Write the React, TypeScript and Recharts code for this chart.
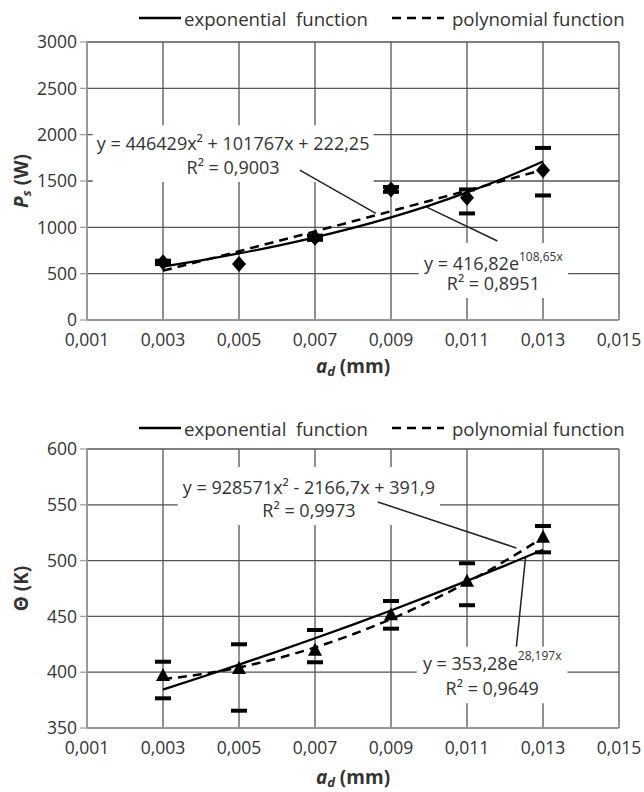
import React from 'react';
import { ComposedChart, Line, Scatter, XAxis, YAxis, CartesianGrid, ReferenceArea, ReferenceLine, Label } from 'recharts';

// measured x positions (mm)
const AD_X = [0.003, 0.005, 0.007, 0.009, 0.011, 0.013];
const TREND_X = [0.003, 0.004, 0.005, 0.006, 0.007, 0.008, 0.009, 0.01, 0.011, 0.012, 0.013];
const X_TICKS = [0.001, 0.003, 0.005, 0.007, 0.009, 0.011, 0.013, 0.015];

// P_s (W)
const PS_MEAN = [622, 604, 887, 1409, 1318, 1617];
const PS_UPPER = [640, null, 910, 1435, 1409, 1857];
const PS_LOWER = [604, null, 865, 1383, 1150, 1344];
const PS_EXP = [577, 644, 718, 800, 892, 994, 1108, 1235, 1377, 1535, 1711];
const PS_POLY = [532, 636, 742, 849, 956, 1065, 1174, 1285, 1396, 1508, 1621];
const PS_TICKS = [0, 500, 1000, 1500, 2000, 2500, 3000];

// Theta (K)
const TH_MEAN = [396.6, 402.9, 419.3, 451, 481, 520.5];
const TH_UPPER = [409.4, 425, 437.8, 463.8, 497.6, 531];
const TH_LOWER = [376.6, 365.5, 408.9, 439, 460, 507.4];
const TH_EXP = [384.5, 395.5, 406.8, 418.4, 430.4, 442.7, 455.3, 468.4, 481.8, 495.5, 509.7];
const TH_POLY = [393.8, 398.1, 404.3, 412.3, 422.2, 434.0, 447.6, 463.1, 480.4, 499.6, 520.7];
const TH_TICKS = [350, 400, 450, 500, 550, 600];

const FONT = '"Open Sans", sans-serif';
const GRID = '#555';
const TXT = '#333';

const toPts = (xs: number[], ys: (number | null)[]) =>
  xs.map((x, i) => ({ x, y: ys[i] })).filter(p => p.y !== null);

const fmt = (v: number) => String(v).replace('.', ',');

const PS_ANN = [
  { x1: 0.00115, x2: 0.00854, y1: 1488, y2: 2102, main: 'y = 446429x² + 101767x + 222,25', sup: '', r2: 'R² = 0,9003', dy1: 18, dy2: 42 },
  { x1: 0.00973, x2: 0.01366, y1: 237, y2: 830, main: 'y = 416,82e', sup: '108,65x', r2: 'R² = 0,8951', dy1: 20, dy2: 40 },
];
const PS_LEADERS = [
  [{ x: 0.0066, y: 1617 }, { x: 0.0086, y: 1150 }],
  [{ x: 0.00994, y: 1218 }, { x: 0.0118, y: 852 }],
];
const TH_ANN = [
  { x1: 0.00339, x2: 0.01029, y1: 531.9, y2: 583.9, main: 'y = 928571x² - 2166,7x + 391,9', sup: '', r2: 'R² = 0,9973', dy1: 20, dy2: 43 },
  { x1: 0.00968, x2: 0.013645, y1: 372.1, y2: 422.9, main: 'y = 353,28e', sup: '28,197x', r2: 'R² = 0,9649', dy1: 16, dy2: 41 },
];
const TH_LEADERS = [
  [{ x: 0.008654, y: 552.5 }, { x: 0.0123, y: 511.3 }],
  [{ x: 0.0123, y: 422.9 }, { x: 0.01254, y: 502.6 }],
];

const Diamond = (p: any) => (
  <polygon points={`${p.cx},${p.cy - 8} ${p.cx + 7},${p.cy} ${p.cx},${p.cy + 8} ${p.cx - 7},${p.cy}`} fill="#000" />
);
const Triangle = (p: any) => (
  <polygon points={`${p.cx},${p.cy - 8} ${p.cx + 7},${p.cy + 5} ${p.cx - 7},${p.cy + 5}`} fill="#000" />
);
const Cap = (p: any) => <rect x={p.cx - 8} y={p.cy - 2} width={16} height={4} fill="#000" />;

const annLabel = (a: any) => (props: any) => {
  const vb = props.viewBox;
  const cx = vb.x + vb.width / 2;
  return (
    <text fontFamily={FONT} fontSize={18} fill={TXT} textAnchor="middle">
      <tspan x={cx} y={vb.y + a.dy1} dominantBaseline="central">
        {a.main}
        {a.sup ? <tspan fontSize={12} dy={-7}>{a.sup}</tspan> : null}
      </tspan>
      <tspan x={cx} y={vb.y + a.dy2} dominantBaseline="central">{a.r2}</tspan>
    </text>
  );
};

const LegendRow = ({ top }: { top: number }) => (
  <div style={{ position: 'absolute', left: 139, top: top - 13, height: 26, display: 'flex', alignItems: 'center', fontFamily: FONT, fontSize: 18.6, color: TXT, whiteSpace: 'pre' }}>
    <svg width={42} height={6}><line x1={0} y1={3} x2={42} y2={3} stroke="#000" strokeWidth={2.5} /></svg>
    <span style={{ marginLeft: 3 }}>exponential  function</span>
    <svg width={52} height={6} style={{ marginLeft: 24 }}><line x1={0} y1={3} x2={52} y2={3} stroke="#000" strokeWidth={2.5} strokeDasharray="9 6" /></svg>
    <span style={{ marginLeft: 8 }}>polynomial function</span>
  </div>
);

interface PanelProps {
  top: number;
  height: number;
  marginTop: number;
  xAxisHeight: number;
  titleDy: number;
  legendTop: number;
  domain: [number, number];
  ticks: number[];
  mean: number[];
  upper: (number | null)[];
  lower: (number | null)[];
  exp: number[];
  poly: number[];
  ann: any[];
  leaders: any[];
  marker: (p: any) => React.ReactElement;
  yTitle: React.ReactNode;
}

const Panel = (p: PanelProps) => {
  const expData = toPts(TREND_X, p.exp);
  const polyData = toPts(TREND_X, p.poly);
  return (
    <div style={{ position: 'absolute', left: 0, top: p.top, width: 644, height: p.height }}>
      <LegendRow top={p.legendTop} />
      <ComposedChart width={644} height={p.height} margin={{ top: p.marginTop, right: 25, bottom: 0, left: 0 }}>
        <CartesianGrid stroke={GRID} strokeWidth={1.3} />
        {p.ann.map((a, i) => (
          <ReferenceArea key={`a${i}`} x1={a.x1} x2={a.x2} y1={a.y1} y2={a.y2} fill="#fff" fillOpacity={1} stroke="none" ifOverflow="visible" label={{ content: annLabel(a) }} />
        ))}
        {p.leaders.map((seg, i) => (
          <ReferenceLine key={`l${i}`} segment={seg} stroke="#222" strokeWidth={1.5} ifOverflow="visible" />
        ))}
        <XAxis type="number" dataKey="x" domain={[0.001, 0.015]} ticks={X_TICKS} tickFormatter={fmt}
          axisLine={{ stroke: '#a0a0a0', strokeWidth: 1.3 }} tickLine={false} tickMargin={8} height={p.xAxisHeight}
          tick={{ fill: TXT, fontSize: 17.5, fontFamily: FONT }} interval={0}>
          <Label content={(lp: any) => (
            <text x={lp.viewBox.x + lp.viewBox.width / 2} y={lp.viewBox.y + p.titleDy} textAnchor="middle" dominantBaseline="central"
              fontFamily={FONT} fontSize={19} fontWeight="bold" fill={TXT}>
              <tspan fontStyle="italic">a</tspan><tspan fontStyle="italic" fontSize={13} dy={5}>d</tspan><tspan dy={-5}> (mm)</tspan>
            </text>
          )} />
        </XAxis>
        <YAxis type="number" dataKey="y" domain={p.domain} ticks={p.ticks} width={87}
          axisLine={{ stroke: '#a0a0a0', strokeWidth: 1.3 }} tickLine={{ stroke: '#a0a0a0', strokeWidth: 1.3 }} tickSize={7} tickMargin={3}
          tick={{ fill: TXT, fontSize: 17.5, fontFamily: FONT }} interval={0}>
          <Label content={(lp: any) => {
            const cx = 21;
            const cy = lp.viewBox.y + lp.viewBox.height / 2;
            return (
              <text x={cx} y={cy} transform={`rotate(-90 ${cx} ${cy})`} textAnchor="middle" dominantBaseline="central"
                fontFamily={FONT} fontSize={19} fontWeight="bold" fill={TXT}>
                {p.yTitle}
              </text>
            );
          }} />
        </YAxis>
        <Line data={polyData} dataKey="y" type="monotone" stroke="#000" strokeWidth={2.5} strokeDasharray="9 6" dot={false} isAnimationActive={false} />
        <Line data={expData} dataKey="y" type="monotone" stroke="#000" strokeWidth={2.3} dot={false} isAnimationActive={false} />
        <Scatter data={toPts(AD_X, p.upper)} dataKey="y" shape={Cap} isAnimationActive={false} />
        <Scatter data={toPts(AD_X, p.lower)} dataKey="y" shape={Cap} isAnimationActive={false} />
        <Scatter data={toPts(AD_X, p.mean)} dataKey="y" shape={p.marker} isAnimationActive={false} />
      </ComposedChart>
    </div>
  );
};

export default function App() {
  return (
    <div style={{ position: 'absolute', left: 0, top: 0, width: 644, height: 792, background: '#fff' }}>
      <Panel top={0} height={390} marginTop={42} xAxisHeight={70} titleDy={46} legendTop={18}
        domain={[0, 3000]} ticks={PS_TICKS} mean={PS_MEAN} upper={PS_UPPER} lower={PS_LOWER}
        exp={PS_EXP} poly={PS_POLY} ann={PS_ANN} leaders={PS_LEADERS} marker={Diamond}
        yTitle={<><tspan fontStyle="italic">P</tspan><tspan fontStyle="italic" fontSize={13} dy={5}>s</tspan><tspan dy={-5}> (W)</tspan></>} />
      <Panel top={390} height={402} marginTop={59} xAxisHeight={64} titleDy={49} legendTop={38}
        domain={[350, 600]} ticks={TH_TICKS} mean={TH_MEAN} upper={TH_UPPER} lower={TH_LOWER}
        exp={TH_EXP} poly={TH_POLY} ann={TH_ANN} leaders={TH_LEADERS} marker={Triangle}
        yTitle={<>Θ (K)</>} />
    </div>
  );
}
